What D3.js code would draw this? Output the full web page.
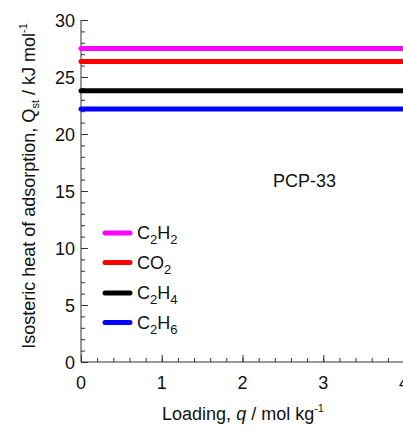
<!DOCTYPE html>
<html>
<head>
<meta charset="utf-8">
<script src="https://cdn.jsdelivr.net/npm/d3@7"></script>
<style>
  body { margin: 0; background: #fff; }
  text { font-family: "Liberation Sans", Arial, sans-serif; fill: #111; }
</style>
</head>
<body>
<script>
const width = 403, height = 433;

// data
const species = ["C2H2", "CO2", "C2H4", "C2H6"];
const speciesLabel = [["C", "2", "H", "2"], ["CO", "2"], ["C", "2", "H", "4"], ["C", "2", "H", "6"]];
const colors = ["#ff00ff", "#ff0000", "#000000", "#0000ff"];
const qst = [27.5, 26.35, 23.8, 22.2];
const loading = [0, 4];
const xTicks = [0, 1, 2, 3, 4];
const yTicks = [0, 5, 10, 15, 20, 25, 30];

const margin = {left: 81, top: 20, right: -1, bottom: 71};

const x = d3.scaleLinear().domain([0, 4]).range([margin.left, width - margin.right]);
const y = d3.scaleLinear().domain([0, 30]).range([height - margin.bottom, margin.top]);

const svg = d3.select("body").append("svg")
    .attr("width", width)
    .attr("height", height);

// minor ticks (inward)
svg.append("g")
    .attr("transform", "translate(" + margin.left + ",0)")
    .call(d3.axisRight(y).tickValues(d3.range(0, 31, 1)).tickSize(4).tickFormat(""))
    .call(g => g.select(".domain").remove());
svg.append("g")
    .attr("transform", "translate(0," + y(0) + ")")
    .call(d3.axisTop(x).tickValues(d3.range(0, 4.01, 0.2)).tickSize(4).tickFormat(""))
    .call(g => g.select(".domain").remove());

// major ticks
const yAxis = svg.append("g")
    .attr("transform", "translate(" + margin.left + ",0)")
    .call(d3.axisRight(y).tickValues(yTicks).tickSize(7).tickFormat(""));
yAxis.select(".domain").attr("d", "M0," + y(30) + "V" + y(0));
const xAxis = svg.append("g")
    .attr("transform", "translate(0," + y(0) + ")")
    .call(d3.axisTop(x).tickValues(xTicks).tickSize(7).tickFormat(""));
xAxis.select(".domain").attr("d", "M" + x(0) + ",0H" + width);
svg.selectAll(".tick line, .domain").attr("stroke", "#333").attr("stroke-width", 1);

// tick labels
svg.append("g").selectAll("text")
    .data(yTicks).join("text")
    .attr("x", margin.left - 6)
    .attr("y", d => y(d) + 6.5)
    .attr("text-anchor", "end")
    .style("font-size", "18px")
    .text(d => d);
svg.append("g").selectAll("text")
    .data(xTicks).join("text")
    .attr("x", d => x(d))
    .attr("y", y(0) + 27)
    .attr("text-anchor", "middle")
    .style("font-size", "18px")
    .text(d => d);

// data lines
const line = d3.line().x(d => x(d[0])).y(d => y(d[1]));
svg.append("g").selectAll("path")
    .data(species).join("path")
    .attr("d", (d, i) => line(loading.map(q => [q, qst[i]])))
    .attr("stroke", (d, i) => colors[i])
    .attr("stroke-width", 5)
    .attr("stroke-linecap", "round")
    .attr("fill", "none");

// legend
const legendY = [233, 262.5, 293, 322.5];
const legend = svg.append("g");
species.forEach((s, i) => {
  legend.append("line")
      .attr("x1", 105).attr("x2", 130)
      .attr("y1", legendY[i]).attr("y2", legendY[i])
      .attr("stroke", colors[i])
      .attr("stroke-width", 5)
      .attr("stroke-linecap", "round");
  const t = legend.append("text")
      .attr("x", 137)
      .attr("y", legendY[i] + 6)
      .style("font-size", "18px");
  speciesLabel[i].forEach((part, j) => {
    const sub = /^\d$/.test(part);
    t.append("tspan")
        .attr("dy", sub ? 5 : (j > 0 ? -5 : 0))
        .style("font-size", sub ? "13px" : "18px")
        .text(part);
  });
});

svg.append("text")
    .attr("x", 273)
    .attr("y", 187)
    .style("font-size", "18px")
    .text("PCP-33");

// axis titles
const xt = svg.append("text")
    .attr("x", 243)
    .attr("y", 420)
    .attr("text-anchor", "middle")
    .style("font-size", "18px");
xt.append("tspan").text("Loading, ");
xt.append("tspan").style("font-style", "italic").text("q");
xt.append("tspan").text("  / mol kg");
xt.append("tspan").attr("dy", -8).style("font-size", "11px").text("-1");

const yt = svg.append("text")
    .attr("transform", "translate(35," + 186 + ") rotate(-90)")
    .attr("text-anchor", "middle")
    .style("font-size", "18px");
yt.append("tspan").text("Isosteric heat of adsorption,  Q");
yt.append("tspan").attr("dy", 4).style("font-size", "11px").text("st");
yt.append("tspan").attr("dy", -4).text(" / kJ mol");
yt.append("tspan").attr("dy", -8).style("font-size", "11px").text("-1");
</script>
</body>
</html>
